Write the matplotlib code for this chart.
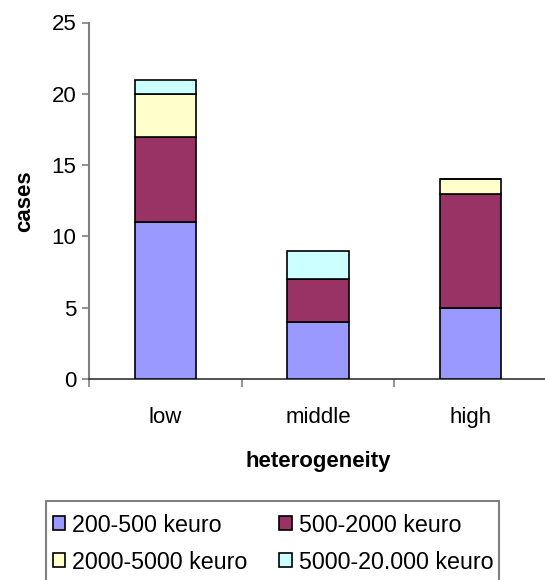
import matplotlib
matplotlib.use("Agg")
import matplotlib.pyplot as plt
from matplotlib.patches import Rectangle
import numpy as np

plt.rcParams['font.family'] = ['Liberation Sans', 'DejaVu Sans']

categories = ["low", "middle", "high"]
series_names = ["200-500 keuro", "500-2000 keuro", "2000-5000 keuro", "5000-20.000 keuro"]
s_200_500 = [11, 4, 5]
s_500_2000 = [6, 3, 8]
s_2000_5000 = [3, 0, 1]
s_5000_20000 = [1, 2, 0]
series_values = [s_200_500, s_500_2000, s_2000_5000, s_5000_20000]
colors = ["#9999FF", "#993366", "#FFFFCC", "#CCFFFF"]
yticks = [0, 5, 10, 15, 20, 25]

W, H = 545, 580
fig = plt.figure(figsize=(W / 100, H / 100), dpi=100)

def px(x0, y0, x1, y1):
    return [x0 / W, 1 - y1 / H, (x1 - x0) / W, (y1 - y0) / H]

ax = fig.add_axes(px(89, 22.5, 547, 379))

x = np.arange(len(categories))
bottom = np.zeros(len(categories))
handles = []
for name, vals, col in zip(series_names, series_values, colors):
    vals = np.array(vals, dtype=float)
    b = ax.bar(x, vals, width=0.4, bottom=bottom, color=col,
               edgecolor="black", linewidth=1.2, label=name, zorder=3)
    handles.append(b)
    bottom += vals

ax.set_xlim(-0.5, 2.5)
ax.set_ylim(0, 25)
ax.set_yticks(yticks)
ax.set_yticklabels([str(t) for t in yticks], fontsize=16)

# category labels centred, tick marks between categories
ax.set_xticks(x)
ax.set_xticklabels(categories, fontsize=16)
ax.tick_params(axis="x", length=0, pad=20)
ax.set_xticks([-0.5, 0.5, 1.5], minor=True)
ax.tick_params(axis="x", which="minor", length=6, width=1.2, color="#808080", direction="out")
ax.tick_params(axis="y", length=5, width=1.2, color="#808080", direction="out", pad=4)

for side in ["top", "right"]:
    ax.spines[side].set_visible(False)
ax.spines["left"].set_color("#808080")
ax.spines["left"].set_linewidth(1.5)
ax.spines["bottom"].set_color("#333333")
ax.spines["bottom"].set_linewidth(1.2)

ax.set_ylabel("cases", fontsize=16, fontweight="bold", labelpad=12)
ax.set_xlabel("heterogeneity", fontsize=16, fontweight="bold", labelpad=17)

# legend frame, running off the bottom of the figure
fig.patches.append(Rectangle((46 / W, -0.05), (499 - 46) / W, 0.05 + 1 - 500.7 / H,
                             transform=fig.transFigure, facecolor="white",
                             edgecolor="#808080", linewidth=1.5, zorder=1))
# entries read row by row
order = [0, 2, 1, 3]
leg = fig.legend(handles=[handles[i] for i in order],
                 labels=[series_names[i] for i in order], ncol=2,
                 loc="upper left", bbox_to_anchor=(48 / W, 1 - 509 / H),
                 frameon=False, fontsize=16.75, handlelength=0.55, handleheight=0.55,
                 handletextpad=0.3, columnspacing=1.35, labelspacing=0.6,
                 borderpad=0.2, borderaxespad=0)
for h in leg.legend_handles:
    h.set_edgecolor("black")
    h.set_linewidth(1.2)

fig.savefig("out.png", dpi=100)
